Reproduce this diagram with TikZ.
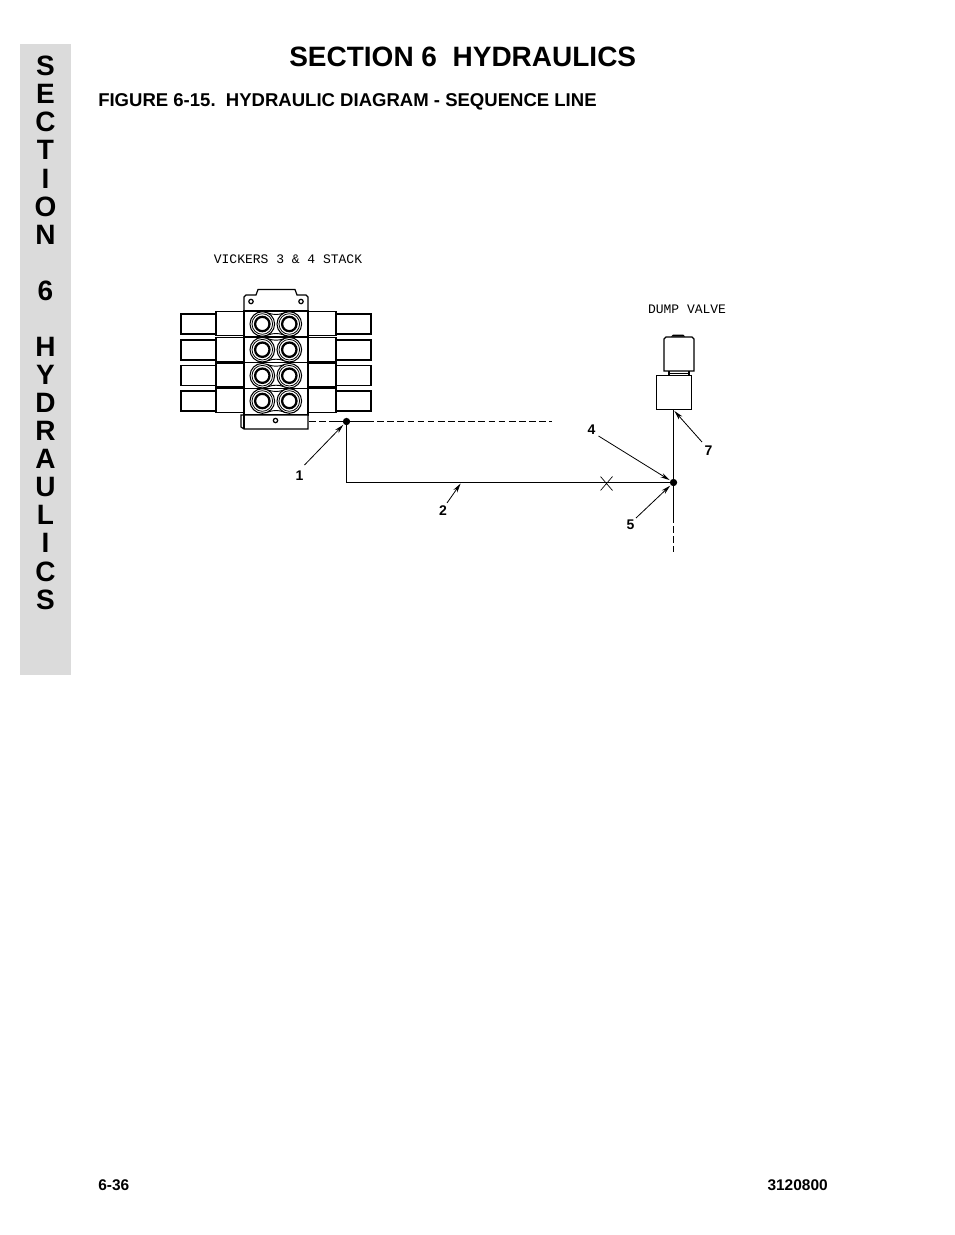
\documentclass[tikz,border=0pt]{standalone}
\usepackage{fontspec}
\setmainfont{Liberation Sans}
\usetikzlibrary{arrows.meta}
\newfontfamily\plotfont{Liberation Mono}
\tikzset{
 part/.style={draw=black,line width=0.9pt,fill=white},
 callout/.style={font=\bfseries\fontsize{10.5pt}{12pt}\selectfont,inner sep=0pt},
 plotter/.style={font=\plotfont\fontsize{9.75pt}{11pt}\selectfont,inner sep=0pt},
 leader/.style={draw=black,line width=0.6pt,-{Stealth[length=7pt,width=3.5pt]},shorten >=0.5pt},
 pipe/.style={draw=black,line width=1.15pt},
 hidden/.style={draw=black,line width=0.9pt,dash pattern=on 5pt off 2.6pt},
 joint/.style={circle,fill=black,inner sep=0pt,minimum size=5.5pt},
}
\begin{document}
\begin{tikzpicture}[x=0.75pt,y=-0.75pt]
\useasboundingbox (0,0) rectangle (954,1235);
% side band
\fill[black!14] (20,44) rectangle (71,675);
\foreach \t/\yy in {S/66,E/94,C/122,T/150,I/179,O/207,N/235,6/291,H/347,Y/375,D/403,R/431,A/459,U/487,L/515,I/543,C/572,S/600}
  \node[font=\bfseries\fontsize{21pt}{24pt}\selectfont,inner sep=0pt] at (45.5,\yy) {\t};
% headings
\node[font=\bfseries\fontsize{21pt}{24pt}\selectfont,inner sep=0pt,anchor=base west] (title) at (289,66) {SECTION 6\ \ HYDRAULICS};
\node[font=\bfseries\fontsize{13.9pt}{16pt}\selectfont,inner sep=0pt,anchor=base west] (fig) at (98,106) {FIGURE 6-15.\ \ HYDRAULIC DIAGRAM - SEQUENCE LINE};
\node[font=\bfseries\fontsize{11.6pt}{13pt}\selectfont,inner sep=0pt,anchor=base west] (pgn) at (98,1190) {6-36};
\node[font=\bfseries\fontsize{11.6pt}{13pt}\selectfont,inner sep=0pt,anchor=base east] (doc) at (828,1190) {3120800};
% plotter labels
\node[plotter] (vlabel) at (288,259.5) {VICKERS 3 \& 4 STACK};
\node[plotter] (dlabel) at (687,309.5) {DUMP VALVE};
% hydraulic stack side sections
\foreach \yy in {0,26,51.5,77}{
  \draw[part] (181,314+\yy) rectangle (216,334+\yy);
  \draw[part] (216,311.5+\yy) rectangle (244,335.5+\yy);
  \draw[part] (336,314+\yy) rectangle (371,334+\yy);
  \draw[part] (308,311.5+\yy) rectangle (336,335.5+\yy);
}
% head plate
\draw[part] (244,311) -- (244,297) -- (246,295) -- (256,295) -- (258,289.5) -- (295,289.5) -- (297,295) -- (306,295) -- (308,297) -- (308,311) -- cycle;
\draw[line width=0.9pt] (251,301.5) circle (2.2) (301,301.5) circle (2.2);
% valve rows
\draw[part] (244,311) rectangle (308,415);
\draw[line width=0.8pt] (244,337) -- (308,337) (244,362.5) -- (308,362.5) (244,388.5) -- (308,388.5);
\foreach \yy in {324,349.7,375.7,401}{
  \draw[line width=0.8pt,fill=white] (262.3,\yy) circle (12.3);
  \draw[line width=0.8pt,fill=white] (289.3,\yy) circle (12.3);
  \draw[line width=0.7pt] (268,\yy-11) .. controls (273,\yy-9) and (279,\yy-9) .. (284,\yy-11);
  \draw[line width=0.7pt] (268,\yy+11) .. controls (273,\yy+9) and (279,\yy+9) .. (284,\yy+11);
  \foreach \xx in {262.3,289.3}{
    \draw[line width=0.6pt] (\xx,\yy) circle (10.3);
    \draw[line width=1.7pt] (\xx,\yy) circle (7.2);
  }
}
% foot plate
\draw[part] (241,415) -- (241,427) -- (244,429) -- (308,429) -- (308,415) -- cycle;
\draw[line width=0.9pt] (244,415) -- (244,429);
\draw[line width=0.9pt] (275.5,420.5) circle (2.2);
% dump valve
\draw[part] (664,339) -- (664,371) -- (694,371) -- (694,339) -- (692,337) -- (666,337) -- cycle;
\fill (671,336.5) -- (673,334.5) -- (683,334.5) -- (685,336.5) -- cycle;
\draw[line width=0.9pt] (669,371) -- (669,375) (689,371) -- (689,375);
\draw[line width=0.9pt] (669,373.5) -- (689,373.5);
\node[draw=black,line width=1pt,fill=white,minimum width=26.25pt,minimum height=25.5pt,inner sep=0pt] (valve) at (674,392.5) {};
% joints and pipes
\node[joint] (j1) at (346.5,421.5) {};
\node[joint] (j2) at (673.5,482.5) {};
\coordinate (corner) at (346.5,482.5);
\coordinate (pipeL) at (309,421.5);
\coordinate (solidL) at (330,421.5);
\coordinate (solidR) at (367,421.5);
\coordinate (pipeR) at (552,421.5);
\coordinate (vbase) at (673.5,410);
\coordinate (vdown) at (673.5,552);
\coordinate (vmid) at (673.5,516);
\draw[pipe] (j1.center) -- (corner) -- (j2.center);
\draw[pipe] (vbase) -- (j2.center) -- (vmid);
\draw[hidden] (vmid) -- (vdown);
\draw[hidden] (pipeL) -- (solidL);
\draw[draw=black,line width=0.9pt] (solidL) -- (solidR);
\draw[hidden] (solidR) -- (pipeR);
% X mark
\coordinate (xa) at (600.5,476.5);
\coordinate (xb) at (612.5,490.5);
\coordinate (xc) at (612.5,476.5);
\coordinate (xd) at (600.5,490.5);
\draw[line width=0.5pt] (xa) -- (xb) (xc) -- (xd);
% callouts
\node[callout] (n1) at (299.5,476) {1};
\node[callout] (n2) at (443,511) {2};
\node[callout] (n4) at (591.5,430) {4};
\node[callout] (n5) at (630.5,525) {5};
\node[callout] (n7) at (708.5,451) {7};
\coordinate (p2) at (461,483);
\coordinate (p7) at (674,410.5);
\path[leader] (304.5,465) -- (j1);
\path[leader] (447,503) -- (p2);
\path[leader] (598.5,436) -- (j2);
\path[leader] (636,518) -- (j2);
\path[leader] (702,442) -- (p7);
\end{tikzpicture}
\end{document}
